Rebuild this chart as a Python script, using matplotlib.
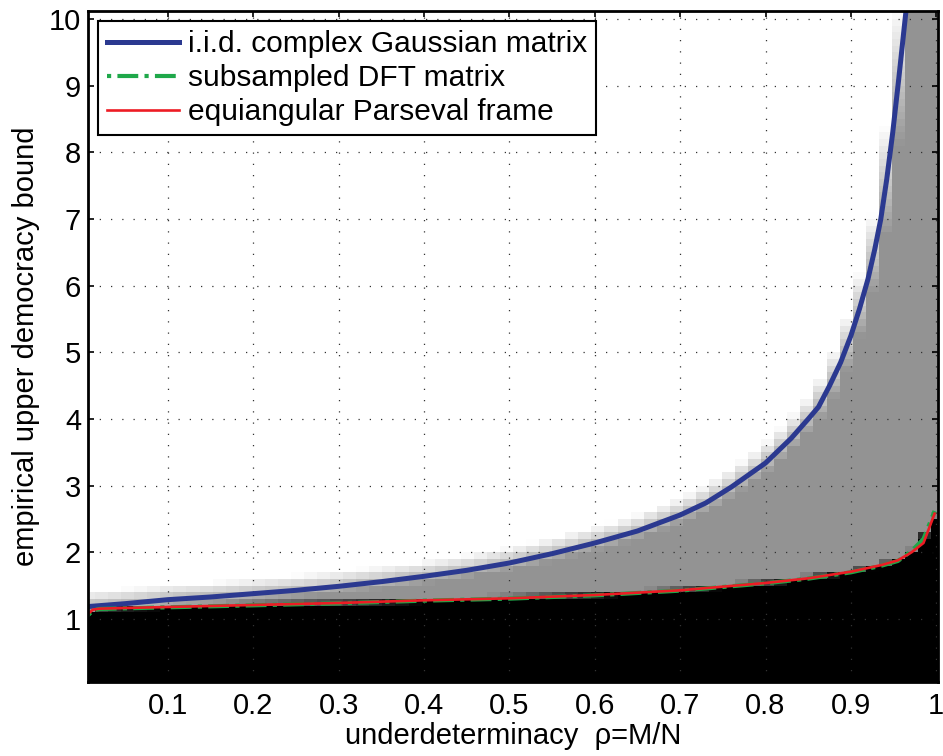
import numpy as np
import matplotlib
matplotlib.use('Agg')
import matplotlib.pyplot as plt

plt.rcParams['font.family'] = ['Liberation Sans', 'DejaVu Sans']

# i.i.d. complex Gaussian matrix
gauss_x = [0.01, 0.05, 0.10, 0.15, 0.20, 0.25, 0.30, 0.35, 0.40, 0.45, 0.50, 0.55,
           0.60, 0.65, 0.70, 0.73, 0.76, 0.80, 0.83, 0.85, 0.862, 0.875, 0.888,
           0.90, 0.91, 0.92, 0.928, 0.935, 0.942, 0.949, 0.956, 0.966]
gauss_y = [1.19, 1.23, 1.29, 1.33, 1.38, 1.43, 1.49, 1.56, 1.64, 1.73, 1.84, 1.98,
           2.14, 2.32, 2.56, 2.74, 2.98, 3.34, 3.71, 4.00, 4.18, 4.50, 4.85,
           5.25, 5.65, 6.10, 6.55, 7.00, 7.60, 8.30, 9.10, 10.30]

# subsampled DFT matrix
dft_x = [0.006, 0.012, 0.02, 0.05, 0.10, 0.20, 0.30, 0.40, 0.50, 0.60, 0.70,
         0.80, 0.85, 0.90, 0.936, 0.955, 0.971, 0.985, 0.998]
dft_y = [1.05, 1.13, 1.15, 1.16, 1.175, 1.205, 1.235, 1.275, 1.305, 1.355, 1.425,
         1.535, 1.605, 1.70, 1.80, 1.87, 2.02, 2.20, 2.62]

# equiangular Parseval frame
eq_x = [0.006, 0.012, 0.02, 0.05, 0.10, 0.20, 0.30, 0.40, 0.50, 0.60, 0.70,
        0.80, 0.85, 0.90, 0.936, 0.955, 0.971, 0.985, 0.998]
eq_y = [1.07, 1.14, 1.155, 1.165, 1.18, 1.21, 1.24, 1.28, 1.31, 1.36, 1.43,
        1.54, 1.61, 1.71, 1.81, 1.88, 2.00, 2.14, 2.58]

xticks = [0.1, 0.2, 0.3, 0.4, 0.5, 0.6, 0.7, 0.8, 0.9, 1.0]
xticklabels = ['0.1', '0.2', '0.3', '0.4', '0.5', '0.6', '0.7', '0.8', '0.9', '1']
yticks = [1, 2, 3, 4, 5, 6, 7, 8, 9, 10]

# background map: black under the lower curve, gray in between, white above
x_edges = -0.0007 + 0.0153 * np.arange(67)
y_edges = np.arange(0, 10.35, 0.1)
yc = 0.5 * (y_edges[:-1] + y_edges[1:])
g = 0.575
C = np.zeros((len(yc), len(x_edges) - 1))
for j in range(len(x_edges) - 1):
    x0, x1 = x_edges[j], x_edges[j + 1]
    b0 = np.interp(x0, gauss_x, gauss_y, right=np.inf)
    b1 = np.interp(x1, gauss_x, gauss_y, right=np.inf)
    lo = 0.5 * (np.interp(x0, eq_x, eq_y) + np.interp(x1, eq_x, eq_y))
    if np.isinf(b1):
        t = np.zeros_like(yc)
    else:
        t = np.clip((yc - (b0 - 0.1)) / (b1 - b0 + 0.32), 0, 1)
    up = g + (1 - g) * t
    low = np.clip((yc - lo + 0.03) / 0.08, 0, 1)
    C[:, j] = up * low

fig = plt.figure(figsize=(9.43, 7.56), dpi=100)
ax = fig.add_axes([0.0933, 0.0979, 0.9014, 0.8876])

ax.pcolormesh(x_edges, y_edges, C, cmap='gray', vmin=0, vmax=1, shading='flat', zorder=1)

ax.plot(gauss_x, gauss_y, color='#2b3990', lw=3.6, label='i.i.d. complex Gaussian matrix', zorder=3)
ax.plot(dft_x, dft_y, color='#1fa84a', lw=3.0, dashes=(1, 1.5, 5, 1.5),
        label='subsampled DFT matrix', zorder=3)
ax.plot(eq_x, eq_y, color='#ed1c24', lw=1.9, label='equiangular Parseval frame', zorder=4)

ax.set_xlim(0.0063, 1.002)
ax.set_ylim(0.055, 10.12)
ax.set_xticks(xticks)
ax.set_xticklabels(xticklabels)
ax.set_yticks(yticks)

ax.grid(True, color='#333333', linestyle=(0, (1, 8)), linewidth=0.9)
ax.tick_params(direction='in', length=4, width=1.2, top=True, right=True,
               labelsize=21, pad=7)
ax.tick_params(axis='y', pad=5)
for s in ax.spines.values():
    s.set_linewidth(2.0)
    s.set_zorder(5)

ax.set_xlabel('underdeterminacy  \u03c1=M/N', fontsize=21, labelpad=2)
ax.set_ylabel('empirical upper democracy bound', fontsize=21, labelpad=6)

leg = ax.legend(loc='upper left', fontsize=21.5, handlelength=2.4, handletextpad=0.3,
                borderpad=0.3, labelspacing=0.2, borderaxespad=0.35, fancybox=False,
                framealpha=1, edgecolor='black')
leg.get_frame().set_linewidth(1.5)
leg.set_zorder(6)

fig.savefig('out.png', dpi=100)
